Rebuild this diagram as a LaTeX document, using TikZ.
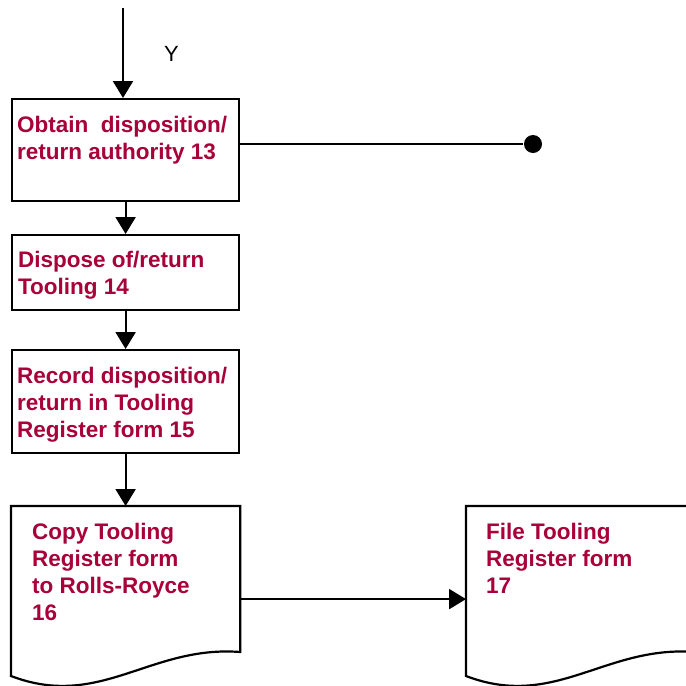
\documentclass[tikz,border=0pt]{standalone}
\usepackage{fontspec}
\setmainfont{Liberation Sans}
\usetikzlibrary{arrows.meta,calc}
\definecolor{lbl}{RGB}{168,0,56}
\begin{document}
\begin{tikzpicture}[x=1pt,y=-1pt,
  line width=2.2pt,
  box/.style={draw,rectangle,minimum width=227pt,anchor=north west,inner sep=0pt},
  ghost/.style={rectangle,minimum width=227pt,anchor=north west,inner sep=0pt},
  txt/.style={anchor=north west,inner sep=0pt,align=left,text=lbl,font=\fontsize{22.5}{27}\selectfont\bfseries},
  arr/.style={-{Triangle[width=20pt,length=17pt]}}]
\useasboundingbox (0,0) rectangle (686,686);
\clip (0,0) rectangle (686,686);
% boxes
\node[box,minimum height=102pt] (b1) at (11,98) {};
\node[box,minimum height=75pt] (b2) at (11,234) {};
\node[box,minimum height=103pt] (b3) at (11,349) {};
% documents (outline drawn below)
\node[ghost,minimum height=184pt] (d1) at (11,506) {};
\node[ghost,minimum height=184pt] (d2) at (466,506) {};
\draw (d1.south west |- 0,676) -- (d1.north west) -- (d1.north east) -- (d1.east |- 0,652)
  .. controls ($(d1.north west)+(139,139)$) and ($(d1.north west)+(89,204)$) .. cycle;
\draw (d2.south west |- 0,676) -- (d2.north west) -- (d2.north east) -- (d2.east |- 0,652)
  .. controls ($(d2.north west)+(139,139)$) and ($(d2.north west)+(89,204)$) .. cycle;
% labels
\node[txt] (t1) at (16,115) {Obtain\ \ disposition/\\return authority 13};
\node[txt] (t2) at (17,250) {Dispose of/return\\Tooling 14};
\node[txt] (t3) at (16,366) {Record disposition/\\return in Tooling\\Register form 15};
\node[txt] (t4) at (31,522) {Copy Tooling\\Register form\\to Rolls-Royce\\16};
\node[txt] (t5) at (485,522) {File Tooling\\Register form\\17};
\node[anchor=north west,inner sep=0pt,font=\fontsize{22}{26}\selectfont] (y) at (163,45) {Y};
% connectors
\coordinate (top) at (123,8);
\node[circle,fill,inner sep=0pt,minimum size=18pt] (dot) at (533,144) {};
\draw[arr] (top) -- (top |- b1.north);
\draw (b1.east |- dot) -- (dot);
\draw[arr] (b1.south) -- (b2.north);
\draw[arr] (b2.south) -- (b3.north);
\draw[arr] (b3.south) -- (d1.north);
\draw[arr] (d1.east) -- (d2.west);
\end{tikzpicture}
\end{document}
